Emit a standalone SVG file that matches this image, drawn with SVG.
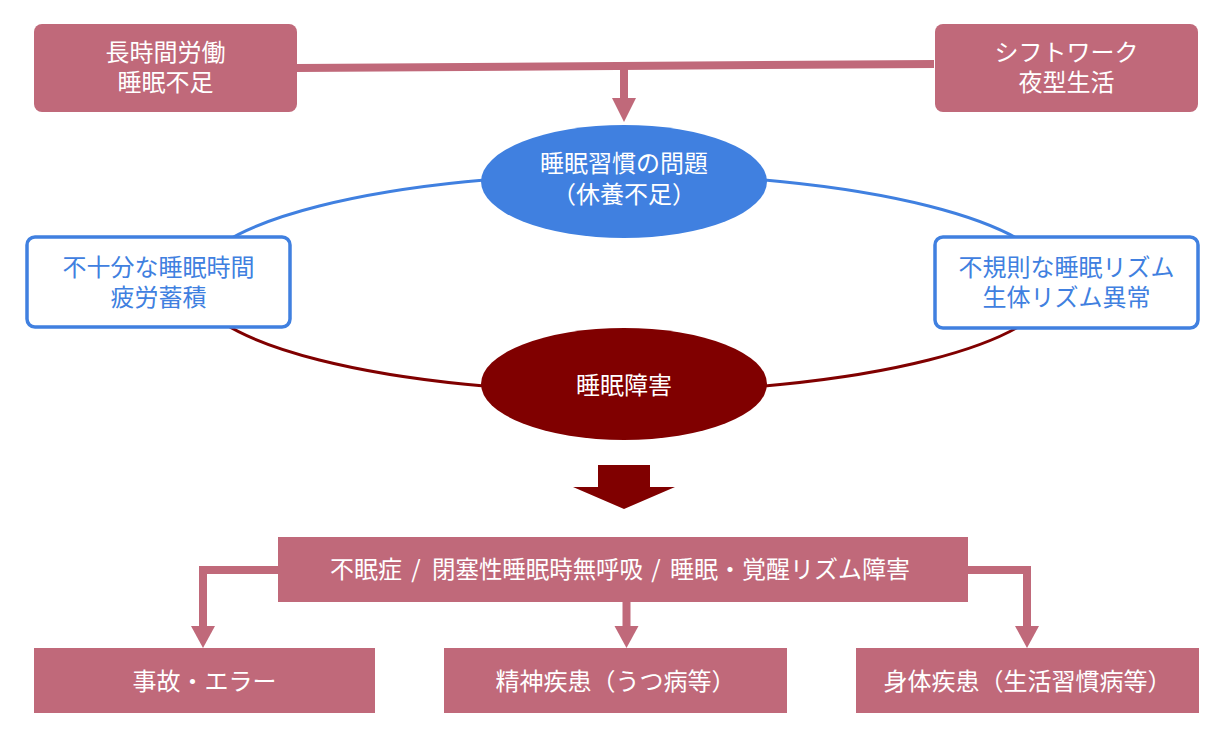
<svg xmlns="http://www.w3.org/2000/svg" width="1232" height="756" viewBox="0 0 1232 756">
<style>
  text { font-family: "Noto Sans CJK JP", "Noto Sans CJK SC", sans-serif; font-size: 24px; text-anchor: middle; }
  .w { fill: #ffffff; }
  .b { fill: #4080E0; }
  .pink { fill: #C0697A; }
  .st { text-anchor: start; }
  .pline { fill: none; stroke: #C0697A; stroke-width: 8; stroke-linejoin: miter; }
  .bbox { fill: #ffffff; stroke: #4080E0; stroke-width: 3.5; }
</style>
<rect width="1232" height="756" fill="#ffffff"/>

<g id="connectors">
  <path d="M 193 283 A 431 109 0 0 1 1055 283" fill="none" stroke="#4080E0" stroke-width="3"/>
  <path d="M 193 283 A 431 109 0 0 0 1055 283" fill="none" stroke="#800000" stroke-width="3"/>
  <path class="pline" d="M 297 68 L 934 64"/>
  <path class="pline" d="M 624 66 L 624 100"/>
  <polygon class="pink" points="612,98 636,98 624,122"/>
  <polygon fill="#800000" points="598,465 650,465 650,487 675,487 624,509 573,487 598,487"/>
  <path class="pline" d="M 278 570 L 203 570 L 203 628"/>
  <polygon class="pink" points="191,626 215,626 203,648"/>
  <path class="pline" d="M 626.5 601 L 626.5 628"/>
  <polygon class="pink" points="614.5,626 638.5,626 626.5,648"/>
  <path class="pline" d="M 968 570 L 1027 570 L 1027 628"/>
  <polygon class="pink" points="1015,626 1039,626 1027,648"/>
</g>

<g id="node-long-hours">
  <rect class="pink" x="34" y="24" width="263" height="88" rx="8"/>
  <text class="w" x="165.5" y="61">長時間労働</text>
  <text class="w" x="165.5" y="91">睡眠不足</text>
</g>
<g id="node-shift-work">
  <rect class="pink" x="935" y="24" width="263" height="88" rx="8"/>
  <text class="w" x="1066.5" y="61">シフトワーク</text>
  <text class="w" x="1066.5" y="91">夜型生活</text>
</g>
<g id="node-habit">
  <ellipse cx="624" cy="181.5" rx="143" ry="56.5" fill="#4080E0"/>
  <text class="w" x="624" y="172">睡眠習慣の問題</text>
  <text class="w" x="624" y="203">（休養不足）</text>
</g>
<g id="node-insufficient">
  <rect class="bbox" x="27" y="237" width="263" height="90" rx="8"/>
  <text class="b" x="158.5" y="276">不十分な睡眠時間</text>
  <text class="b" x="158.5" y="306">疲労蓄積</text>
</g>
<g id="node-irregular">
  <rect class="bbox" x="935" y="237" width="263" height="91" rx="8"/>
  <text class="b" x="1066.5" y="276">不規則な睡眠リズム</text>
  <text class="b" x="1066.5" y="306">生体リズム異常</text>
</g>
<g id="node-disorder">
  <ellipse cx="624" cy="384" rx="143" ry="56" fill="#800000"/>
  <text class="w" x="624" y="394">睡眠障害</text>
</g>
<g id="node-diseases">
  <rect class="pink" x="278" y="537" width="690" height="65"/>
  <text class="w st" x="330" y="578">不眠症</text>
  <text class="w" x="416" y="578">/</text>
  <text class="w st" x="432" y="578" textLength="211" lengthAdjust="spacingAndGlyphs">閉塞性睡眠時無呼吸</text>
  <text class="w" x="656" y="578">/</text>
  <text class="w st" x="670" y="578">睡眠・覚醒リズム障害</text>
</g>
<g id="node-accident">
  <rect class="pink" x="34" y="648" width="341" height="65"/>
  <text class="w" x="204.5" y="690">事故・エラー</text>
</g>
<g id="node-mental">
  <rect class="pink" x="444" y="648" width="343" height="65"/>
  <text class="w" x="615.5" y="690">精神疾患（うつ病等）</text>
</g>
<g id="node-physical">
  <rect class="pink" x="856" y="648" width="343" height="65"/>
  <text class="w" x="1027.5" y="690">身体疾患（生活習慣病等）</text>
</g>
</svg>
